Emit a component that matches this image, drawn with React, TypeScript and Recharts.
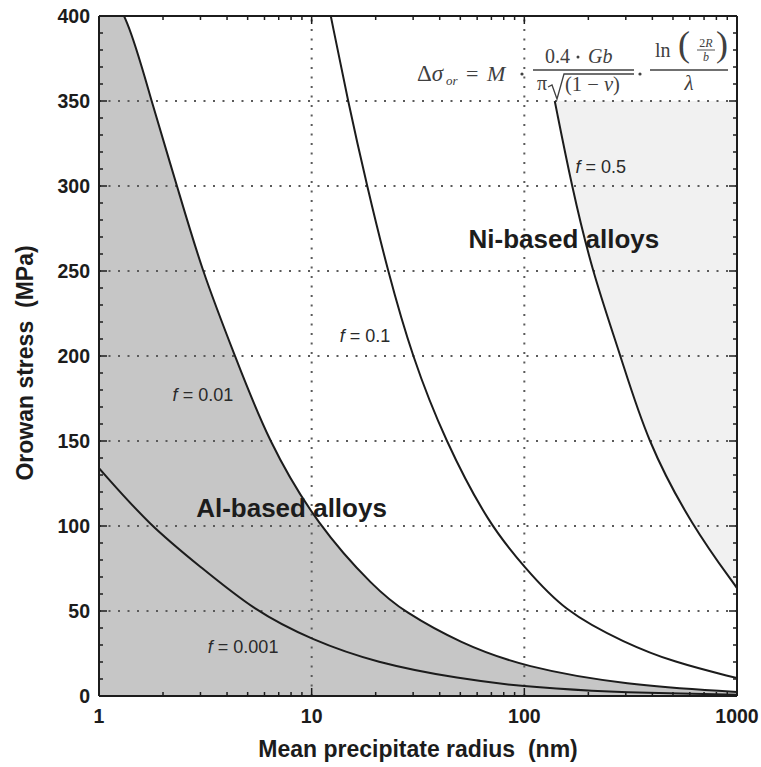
import React from "react";
import {
  Area,
  ComposedChart,
  Line,
  ReferenceDot,
  ReferenceLine,
  XAxis,
  YAxis,
} from "recharts";

// values (radius in nm, stress in MPa)
const radiusF001 = [1, 1.74, 3, 5.4, 10, 20, 50, 100, 200, 500, 1000];
const stressF001 = [134, 100, 76, 50, 33, 19.5, 10, 5.5, 3, 1.4, 0.8];

const radiusF01 = [1, 1.37, 1.76, 2.33, 3.05, 4.36, 6.23, 10.7, 20, 26.9, 50, 100, 300, 1000];
const stressF01 = [425, 400, 350, 300, 250, 200, 150, 100, 63, 50, 31, 17, 6.5, 2.4];

const radiusF1 = [12.3, 14.8, 18.2, 22.8, 29.6, 42.4, 68.9, 100, 153, 300, 500, 1000];
const stressF1 = [400, 350, 300, 250, 200, 150, 100, 76, 50, 31, 20, 10.5];

const radiusF05 = [139, 167, 208, 284, 377, 614, 1000];
const stressF05 = [350, 300, 250, 200, 150, 100, 63.5];

const NI_BAND_TOP = 350;

const xTickLabels = [1, 10, 100, 1000];
const xTicks = [
  1, 2, 3, 4, 5, 6, 7, 8, 9,
  10, 20, 30, 40, 50, 60, 70, 80, 90,
  100, 200, 300, 400, 500, 600, 700, 800, 900, 1000,
];
const yTickLabels = [0, 50, 100, 150, 200, 250, 300, 350, 400];
const yTicks = Array.from({ length: 41 }, (_, i) => i * 10);
const gridX = [10, 100];
const gridY = [50, 100, 150, 200, 250, 300, 350];

const annotations = [
  { x: 3.08, y: 177, f: "0.01" },
  { x: 4.76, y: 29, f: "0.001" },
  { x: 17.8, y: 212, f: "0.1" },
  { x: 229, y: 311, f: "0.5" },
];
const regionLabels = [
  { x: 153.5, y: 269, text: "Ni-based alloys" },
  { x: 8.04, y: 110.5, text: "Al-based alloys" },
];

type Row = { r: number; f001?: number; f01?: number; f1?: number; f05?: number };

const rows = new Map<number, Row>();
function addSeries(key: keyof Row, radii: number[], stress: number[]) {
  radii.forEach((r, i) => {
    const row = rows.get(r) ?? { r };
    (row as any)[key] = stress[i];
    rows.set(r, row);
  });
}
addSeries("f001", radiusF001, stressF001);
addSeries("f01", radiusF01, stressF01);
addSeries("f1", radiusF1, stressF1);
addSeries("f05", radiusF05, stressF05);
const chartData = [...rows.values()].sort((a, b) => a.r - b.r);

const SANS = "'Liberation Sans', Arial, Helvetica, sans-serif";
const SERIF = "'Liberation Serif', 'DejaVu Serif', serif";
const INK = "#1c1c1c";

function BottomTick({ x, y, payload }: any) {
  const major = xTickLabels.includes(payload.value);
  return (
    <g>
      <line x1={x} x2={x} y1={y} y2={y - (major ? 8 : 4)} stroke={INK} strokeWidth={1.5} />
      {major && (
        <text x={x} y={y + 27} textAnchor="middle" fontFamily={SANS} fontWeight={700} fontSize={19.5} fill={INK}>
          {payload.value}
        </text>
      )}
    </g>
  );
}

function TopTick({ x, y, payload }: any) {
  const major = xTickLabels.includes(payload.value);
  return <line x1={x} x2={x} y1={y} y2={y + (major ? 8 : 4)} stroke={INK} strokeWidth={1.5} />;
}

function LeftTick({ x, y, payload }: any) {
  const major = yTickLabels.includes(payload.value);
  return (
    <g>
      <line x1={x} x2={x + (major ? 8 : 4)} y1={y} y2={y} stroke={INK} strokeWidth={1.5} />
      {major && (
        <text x={x - 9} y={y + 7} textAnchor="end" fontFamily={SANS} fontWeight={700} fontSize={19.5} fill={INK}>
          {payload.value}
        </text>
      )}
    </g>
  );
}

function RightTick({ x, y, payload }: any) {
  const major = yTickLabels.includes(payload.value);
  return <line x1={x} x2={x - (major ? 8 : 4)} y1={y} y2={y} stroke={INK} strokeWidth={1.5} />;
}

// Orowan equation, top right of the plot
function Formula() {
  const c = "#404040";
  return (
    <svg width={761} height={767} style={{ position: "absolute", left: 0, top: 0, pointerEvents: "none" }}>
      <g fontFamily={SERIF} fill={c}>
        <text x={417} y={81} fontSize={23}>
          Δ<tspan fontStyle="italic">σ</tspan>
        </text>
        <text x={446} y={85} fontSize={13} fontStyle="italic">or</text>
        <text x={466} y={81} fontSize={22}>=</text>
        <text x={487} y={81} fontSize={22} fontStyle="italic">M</text>
        <circle cx={522} cy={74} r={1.6} fill={c} />

        <line x1={533} x2={634} y1={70} y2={70} stroke={c} strokeWidth={1.3} />
        <text x={545} y={63} fontSize={20}>0.4</text>
        <circle cx={578} cy={57} r={1.5} fill={c} />
        <text x={588} y={63} fontSize={20} fontStyle="italic">Gb</text>

        <text x={537} y={90} fontSize={20}>π</text>
        <path d="M548 87 L552 85 L557 99 L564 74 L634 74" fill="none" stroke={c} strokeWidth={1.3} />
        <text x={565} y={91} fontSize={20.5}>
          (1 − <tspan fontStyle="italic">ν</tspan>)
        </text>

        <circle cx={640} cy={74} r={1.6} fill={c} />

        <line x1={650} x2={728} y1={70} y2={70} stroke={c} strokeWidth={1.3} />
        <text x={655} y={57} fontSize={20}>ln</text>
        <text x={678} y={56} fontSize={36}>(</text>
        <text x={706} y={47} fontSize={12} textAnchor="middle">
          2<tspan fontStyle="italic">R</tspan>
        </text>
        <line x1={697} x2={715} y1={50} y2={50} stroke={c} strokeWidth={0.9} />
        <text x={706} y={61} fontSize={12} textAnchor="middle" fontStyle="italic">b</text>
        <text x={716} y={56} fontSize={36}>)</text>
        <text x={689} y={90} fontSize={21} textAnchor="middle" fontStyle="italic">λ</text>
      </g>
    </svg>
  );
}

export default function App() {
  return (
    <div style={{ position: "absolute", left: 0, top: 0, width: 761, height: 767, background: "#fff" }}>
      <ComposedChart
        width={761}
        height={767}
        data={chartData}
        margin={{ top: 15, right: 23, bottom: 0, left: 0 }}
      >
        <XAxis
          xAxisId="bottom"
          dataKey="r"
          type="number"
          scale="log"
          domain={[1, 1000]}
          allowDataOverflow
          ticks={xTicks}
          interval={0}
          tickSize={0}
          tickMargin={0}
          tickLine={false}
          tick={BottomTick}
          height={71}
          axisLine={{ stroke: INK, strokeWidth: 2 }}
          label={{
            content: ({ viewBox }: any) => (
              <text
                x={viewBox.x + viewBox.width / 2}
                y={viewBox.y + viewBox.height - 10}
                textAnchor="middle"
                fontFamily={SANS}
                fontWeight={700}
                fontSize={23}
                fill={INK}
              >
                Mean precipitate radius{"\u00a0\u00a0"}(nm)
              </text>
            ),
          }}
        />
        <XAxis
          xAxisId="top"
          orientation="top"
          dataKey="r"
          type="number"
          scale="log"
          domain={[1, 1000]}
          allowDataOverflow
          ticks={xTicks}
          interval={0}
          tickSize={0}
          tickMargin={0}
          tickLine={false}
          tick={TopTick}
          height={1}
          axisLine={{ stroke: INK, strokeWidth: 2 }}
        />
        <YAxis
          yAxisId="left"
          type="number"
          domain={[0, 400]}
          allowDataOverflow
          ticks={yTicks}
          interval={0}
          tickSize={0}
          tickMargin={0}
          tickLine={false}
          tick={LeftTick}
          width={99}
          axisLine={{ stroke: INK, strokeWidth: 2 }}
          label={{
            content: ({ viewBox }: any) => (
              <text
                transform={`translate(33, ${viewBox.y + 347}) rotate(-90)`}
                textAnchor="middle"
                fontFamily={SANS}
                fontWeight={700}
                fontSize={23}
                fill={INK}
              >
                Orowan stress{"\u00a0\u00a0"}(MPa)
              </text>
            ),
          }}
        />
        <YAxis
          yAxisId="right"
          orientation="right"
          type="number"
          domain={[0, 400]}
          allowDataOverflow
          ticks={yTicks}
          interval={0}
          tickSize={0}
          tickMargin={0}
          tickLine={false}
          tick={RightTick}
          width={1}
          axisLine={{ stroke: INK, strokeWidth: 2 }}
        />

        <Area
          xAxisId="bottom"
          yAxisId="left"
          type="basis"
          dataKey="f01"
          connectNulls
          stroke="none"
          fill="#c6c6c6"
          fillOpacity={1}
          isAnimationActive={false}
        />
        <Area
          xAxisId="bottom"
          yAxisId="left"
          type="basis"
          dataKey={(d: Row) => (d.f05 == null ? null : [d.f05, NI_BAND_TOP])}
          connectNulls
          stroke="none"
          fill="#f1f1f1"
          fillOpacity={1}
          isAnimationActive={false}
        />

        {gridY.map((v) => (
          <ReferenceLine
            key={`gy${v}`}
            xAxisId="bottom"
            yAxisId="left"
            y={v}
            stroke="#5a5a5a"
            strokeWidth={2}
            strokeDasharray="2 7.5"
          />
        ))}
        {gridX.map((v) => (
          <ReferenceLine
            key={`gx${v}`}
            xAxisId="bottom"
            yAxisId="left"
            x={v}
            stroke="#5a5a5a"
            strokeWidth={2}
            strokeDasharray="2 7.5"
          />
        ))}

        {(["f001", "f01", "f1", "f05"] as const).map((k) => (
          <Line
            key={k}
            xAxisId="bottom"
            yAxisId="left"
            type="basis"
            dataKey={k}
            connectNulls
            stroke={INK}
            strokeWidth={2}
            dot={false}
            activeDot={false}
            isAnimationActive={false}
          />
        ))}

        {annotations.map((a) => (
          <ReferenceDot
            key={a.f}
            xAxisId="bottom"
            yAxisId="left"
            x={a.x}
            y={a.y}
            r={0}
            stroke="none"
            fill="none"
            label={{
              content: ({ viewBox }: any) => (
                <text
                  x={viewBox.x}
                  y={viewBox.y + 6}
                  textAnchor="middle"
                  fontFamily={SANS}
                  fontSize={18}
                  fill="#2a2a2a"
                >
                  <tspan fontStyle="italic">f</tspan> = {a.f}
                </text>
              ),
            }}
          />
        ))}
        {regionLabels.map((a) => (
          <ReferenceDot
            key={a.text}
            xAxisId="bottom"
            yAxisId="left"
            x={a.x}
            y={a.y}
            r={0}
            stroke="none"
            fill="none"
            label={{
              content: ({ viewBox }: any) => (
                <text
                  x={viewBox.x}
                  y={viewBox.y + 9}
                  textAnchor="middle"
                  fontFamily={SANS}
                  fontWeight={700}
                  fontSize={26}
                  fill={INK}
                >
                  {a.text}
                </text>
              ),
            }}
          />
        ))}
      </ComposedChart>
      <Formula />
    </div>
  );
}
